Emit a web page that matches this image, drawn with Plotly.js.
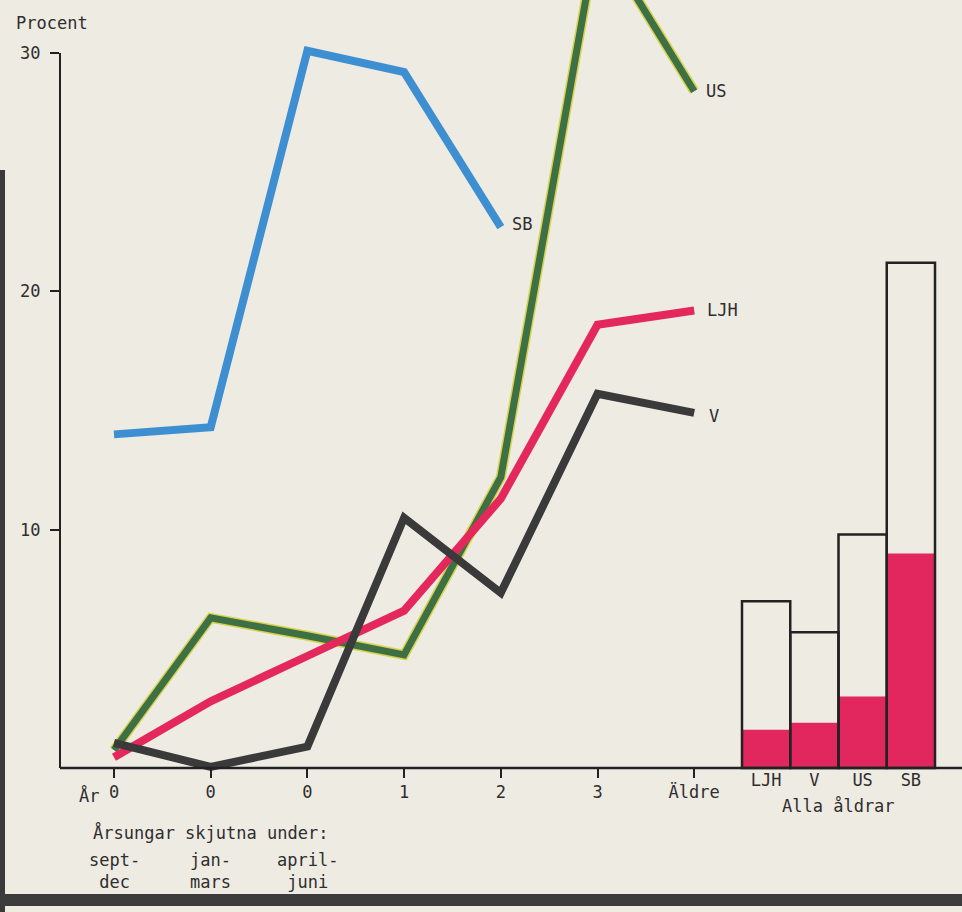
<!DOCTYPE html>
<html>
<head>
<meta charset="utf-8">
<script src="https://cdn.plot.ly/plotly-3.0.1.min.js"></script>
<style>html,body{margin:0;padding:0;background:#eeebe3;}</style>
</head>
<body>
<div id="chart" style="width:962px;height:912px;"></div>
<script>
// ---- data ----
const xIdx = [0, 1, 2, 3, 4, 5, 6];
const xLabels = ['0', '0', '0', '1', '2', '3', 'Äldre'];
const seasonLabels = ['sept-<br>dec', 'jan-<br>mars', 'april-<br>juni'];
const sbVals = [14.0, 14.3, 30.1, 29.2, 22.7];
const usVals = [0.75, 6.3, 5.55, 4.75, 12.2, 35.0, 28.4];
const ljhVals = [0.45, 2.8, 4.7, 6.6, 11.3, 18.6, 19.2];
const vVals = [1.05, 0.05, 0.9, 10.5, 7.35, 15.7, 14.9];
const barCats = ['LJH', 'V', 'US', 'SB'];
const barTotal = [7.0, 5.7, 9.8, 21.2];
const barShare = [1.6, 1.9, 3.0, 9.0];
const yTicks = [10, 20, 30];

// ---- style ----
const FONT = 'DejaVu Sans Mono, Liberation Mono, monospace';
const TXT = '#2e2e2e';
const BG = '#eeebe3';
const W = 8;

const traces = [
  {x: xIdx.slice(0, sbVals.length), y: sbVals, mode: 'lines', line: {color: '#3d8fd2', width: W}, hoverinfo: 'skip'},
  {x: xIdx, y: usVals, mode: 'lines', line: {color: '#d8d24a', width: W + 2}, hoverinfo: 'skip'},
  {x: xIdx, y: usVals, mode: 'lines', line: {color: '#3d7044', width: W - 1}, hoverinfo: 'skip'},
  {x: xIdx, y: ljhVals, mode: 'lines', line: {color: '#e5285c', width: W}, hoverinfo: 'skip'},
  {x: xIdx, y: vVals, mode: 'lines', line: {color: '#3a3a3a', width: W}, hoverinfo: 'skip'},
  {type: 'bar', x: [0, 1, 2, 3], y: barShare, xaxis: 'x2', yaxis: 'y', width: 1,
   marker: {color: '#e2265e', line: {width: 0}}, hoverinfo: 'skip'},
  {type: 'bar', x: [0, 1, 2, 3], y: barTotal, xaxis: 'x2', yaxis: 'y', width: 1,
   marker: {color: 'rgba(0,0,0,0)', line: {color: '#222', width: 2.5}}, hoverinfo: 'skip'}
];

// geometry helpers (pixel layout)
const L = 60, PW = 902, PH = 782;
const X0 = 114, DX = 96.7;
const py = p => (PH - p) / PH;      // pixel y -> paper y
const px = p => (p - L) / PW;       // pixel x -> paper x

const annotations = [
  {text: 'Procent', xref: 'paper', yref: 'paper', x: px(14), y: py(23), xanchor: 'left', yanchor: 'middle', showarrow: false},
  {text: 'År', xref: 'paper', yref: 'paper', x: px(101), y: py(795), xanchor: 'right', yanchor: 'middle', showarrow: false},
  {text: 'Årsungar skjutna under:', xref: 'paper', yref: 'paper', x: px(91), y: py(832), xanchor: 'left', yanchor: 'middle', showarrow: false},
  {text: 'Alla åldrar', xref: 'x2', yref: 'paper', x: 1.5, y: py(806), xanchor: 'center', yanchor: 'middle', showarrow: false},
  {text: 'SB', xref: 'x', yref: 'y', x: 4, y: sbVals[4], xanchor: 'left', xshift: 9, yshift: 3, showarrow: false},
  {text: 'US', xref: 'x', yref: 'y', x: 6, y: usVals[6], xanchor: 'left', xshift: 10, showarrow: false},
  {text: 'LJH', xref: 'x', yref: 'y', x: 6, y: ljhVals[6], xanchor: 'left', xshift: 11, showarrow: false},
  {text: 'V', xref: 'x', yref: 'y', x: 6, y: vVals[6], xanchor: 'left', xshift: 13, yshift: -3, showarrow: false}
];
seasonLabels.forEach((t, i) => annotations.push({
  text: t, xref: 'x', yref: 'paper', x: xIdx[i], y: py(871), xanchor: 'center', yanchor: 'middle',
  align: 'center', showarrow: false
}));

const shapes = [
  // y axis line 0..30
  {type: 'line', xref: 'paper', yref: 'y', x0: 0, x1: 0, y0: 0, y1: 30, line: {color: '#222', width: 2}},
  // baseline across the whole chart
  {type: 'line', xref: 'paper', yref: 'y', x0: 0, x1: 1, y0: 0, y1: 0, line: {color: '#222', width: 2.5}},
  // page edges of the scan
  {type: 'rect', xref: 'paper', yref: 'paper', x0: px(0), x1: px(5), y0: py(912), y1: py(170), fillcolor: '#3a3a3a', line: {width: 0}},
  {type: 'rect', xref: 'paper', yref: 'paper', x0: px(0), x1: px(962), y0: py(906), y1: py(894), fillcolor: '#3c3c3c', line: {width: 0}}
];

const layout = {
  width: 962, height: 912,
  margin: {l: L, r: 0, t: 0, b: 912 - PH},
  paper_bgcolor: BG, plot_bgcolor: BG,
  showlegend: false,
  font: {family: FONT, size: 17, color: TXT},
  barmode: 'overlay',
  xaxis: {
    domain: [0, px(730)], range: [(60 - X0) / DX, (730 - X0) / DX],
    anchor: 'free', position: py(768),
    tickmode: 'array', tickvals: xIdx, ticktext: xLabels,
    ticks: 'outside', ticklen: 9, tickwidth: 2, tickcolor: '#222',
    showline: false, showgrid: false, zeroline: false,
    tickfont: {family: FONT, size: 17, color: TXT}
  },
  xaxis2: {
    domain: [px(738), 1], range: [-0.5 - 4 / 48.25, -0.5 + (962 - 742) / 48.25],
    anchor: 'free', position: py(768),
    tickmode: 'array', tickvals: [0, 1, 2, 3], ticktext: barCats,
    ticks: '', showline: false, showgrid: false, zeroline: false,
    tickfont: {family: FONT, size: 17, color: TXT}
  },
  yaxis: {
    range: [(768 - PH) / 23.83, 768 / 23.83],
    tickmode: 'array', tickvals: yTicks, ticktext: yTicks.map(String),
    ticks: 'outside', ticklen: 9, tickwidth: 2, tickcolor: '#222',
    ticklabelstandoff: 6,
    showline: false, showgrid: false, zeroline: false,
    tickfont: {family: FONT, size: 17, color: TXT}
  },
  annotations: annotations,
  shapes: shapes
};

Plotly.newPlot('chart', traces, layout, {staticPlot: true, displayModeBar: false});
</script>
</body>
</html>
